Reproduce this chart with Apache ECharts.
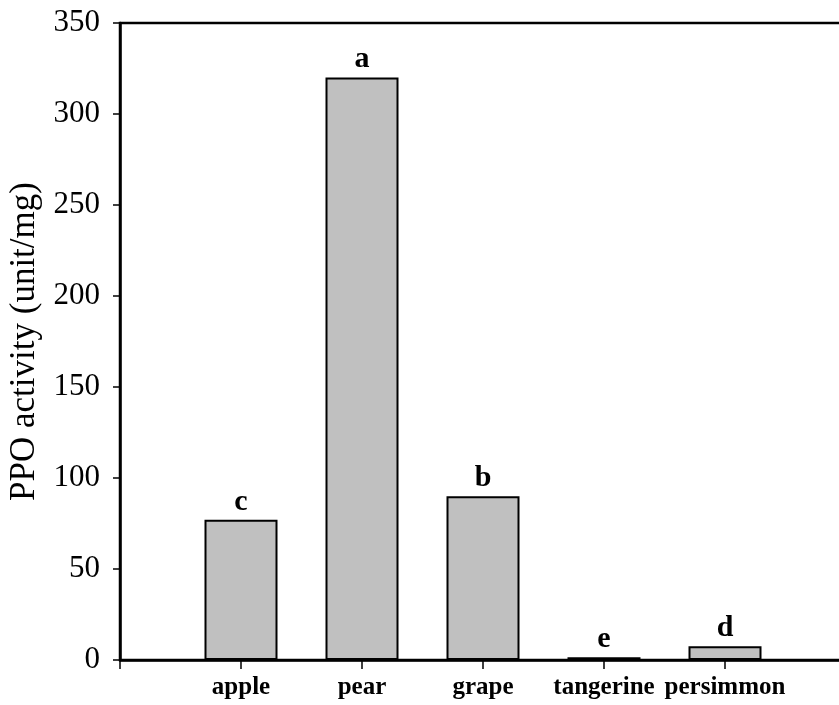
<!DOCTYPE html>
<html>
<head>
<meta charset="utf-8">
<script src="https://cdn.jsdelivr.net/npm/echarts@6/dist/echarts.min.js"></script>
<style>html,body{margin:0;padding:0;background:#fff}#c{width:839px;height:705px}</style>
</head>
<body>
<div id="c"></div>
<script>
const categories = ['', 'apple', 'pear', 'grape', 'tangerine', 'persimmon', ''];
const values = [null, 77, 320, 90, 1.5, 7.5, null];
const letters = ['', 'c', 'a', 'b', 'e', 'd', ''];
const yTicks = { min: 0, max: 350, interval: 50 };

const chart = echarts.init(document.getElementById('c'));
chart.setOption({
  backgroundColor: '#fff',
  animation: false,
  grid: { left: 120, top: 23, height: 637, width: 726, outerBoundsMode: 'none', containLabel: false, show: true, borderColor: '#000', borderWidth: 2.5, backgroundColor: 'transparent' },
  xAxis: {
    type: 'category',
    data: categories,
    boundaryGap: false,
    axisLine: { lineStyle: { color: '#000', width: 2.5 } },
    axisTick: { show: true, length: 9, alignWithLabel: true, lineStyle: { color: '#000', width: 1.5 } },
    axisLabel: { color: '#000', fontFamily: 'Liberation Serif', fontWeight: 'bold', fontSize: 25, margin: 15, interval: 0 },
    splitLine: { show: false }
  },
  yAxis: {
    type: 'value',
    min: yTicks.min, max: yTicks.max, interval: yTicks.interval,
    name: 'PPO activity (unit/mg)',
    nameLocation: 'middle',
    nameGap: 78,
    nameTextStyle: { color: '#000', fontFamily: 'Liberation Serif', fontSize: 35 },
    axisLine: { show: true, lineStyle: { color: '#000', width: 2.5 } },
    axisTick: { show: true, length: 7, lineStyle: { color: '#000', width: 1.5 } },
    axisLabel: { color: '#000', fontFamily: 'Liberation Serif', fontSize: 31, margin: 20 },
    splitLine: { show: false }
  },
  series: [{
    type: 'bar',
    data: values,
    barWidth: 73,
    itemStyle: { color: '#c0c0c0', borderColor: '#000', borderWidth: 2 },
    label: {
      show: true, position: 'top', distance: 3,
      color: '#000', fontFamily: 'Liberation Serif', fontWeight: 'bold', fontSize: 30,
      formatter: p => letters[p.dataIndex]
    }
  }]
});
</script>
</body>
</html>
